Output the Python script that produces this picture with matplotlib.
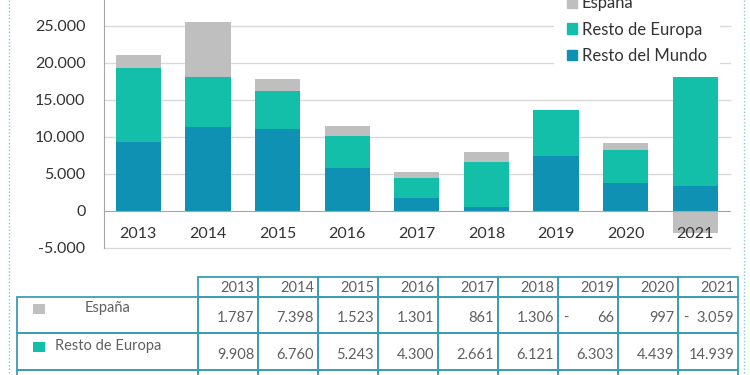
import numpy as np
import matplotlib
matplotlib.use('Agg')
import matplotlib.pyplot as plt
from matplotlib.patches import Patch, Rectangle
from matplotlib.lines import Line2D
from matplotlib.ticker import FuncFormatter

plt.rcParams['font.family'] = ['Lato', 'DejaVu Sans']

# ---------------- data ----------------
years = ['2013', '2014', '2015', '2016', '2017', '2018', '2019', '2020', '2021']
espana = [1787, 7398, 1523, 1301, 861, 1306, -66, 997, -3059]
resto_europa = [9908, 6760, 5243, 4300, 2661, 6121, 6303, 4439, 14939]
resto_mundo = [9350, 11300, 11000, 5800, 1700, 450, 7350, 3750, 3350]  # estimated from bars
y_ticks = [-5000, 0, 5000, 10000, 15000, 20000, 25000]

c_esp = '#BFBFBF'
c_eur = '#14BFA9'
c_mun = '#0E91B2'
border = '#3A9DB8'
txt = '#333333'
tbl_txt = '#606060'


def fmt_num(v, pos=None):
    s = f"{abs(int(v)):,}".replace(',', '.')
    return ('-' + s) if v < 0 else s


W, H = 750, 375
fig = plt.figure(figsize=(7.5, 3.75), dpi=100)


def fa(l, t, r, b):
    return [l / W, 1 - b / H, (r - l) / W, (b - t) / H]


# ---------------- chart ----------------
ax = fig.add_axes(fa(103.5, 0, 730, 247.7))
x = np.arange(len(years))
pos_base = np.zeros(len(years))
neg_base = np.zeros(len(years))
series = [('Resto del Mundo', resto_mundo, c_mun),
          ('Resto de Europa', resto_europa, c_eur),
          ('España', espana, c_esp)]
for name, vals, col in series:
    v = np.array(vals, dtype=float)
    bottoms = np.where(v >= 0, pos_base, neg_base)
    ax.bar(x, v, 0.65, bottom=bottoms, color=col, zorder=1, linewidth=0)
    pos_base += np.where(v > 0, v, 0)
    neg_base += np.where(v < 0, v, 0)

ax.set_xlim(-0.5, 8.5)
ax.set_ylim(-5000, 28500)
ax.set_yticks(y_ticks)
ax.yaxis.set_major_formatter(FuncFormatter(fmt_num))
for t in y_ticks:
    if t != 0:
        ax.axhline(t, color='#D9D9D9', lw=1, zorder=0.5, clip_on=False)
ax.set_xticks(x, years)
ax.spines['bottom'].set_position(('data', 0))
ax.spines['bottom'].set_color('#A6A6A6')
ax.spines['left'].set_color('#A6A6A6')
ax.spines['top'].set_visible(False)
ax.spines['right'].set_visible(False)
ax.tick_params(length=0)
ax.tick_params(axis='y', pad=13, labelsize=11.5, labelcolor=txt)
ax.tick_params(axis='x', pad=11.5, labelsize=11.5, labelcolor=txt)

handles = [Patch(color=c_esp, label='España'),
           Patch(color=c_eur, label='Resto de Europa'),
           Patch(color=c_mun, label='Resto del Mundo')]
leg = fig.legend(handles=handles, loc='center left',
                 bbox_to_anchor=(559 / W, 1 - 29.5 / H), fontsize=12,
                 frameon=True, facecolor='white', edgecolor='none', framealpha=1,
                 handlelength=0.6, handleheight=0.6, handletextpad=0.25,
                 labelspacing=0.62, borderpad=0.5, borderaxespad=0,
                 labelcolor=txt)
leg.get_frame().set_boxstyle('square')

# ---------------- table ----------------
at = fig.add_axes([0, 0, 1, 1], zorder=-1)
at.set_xlim(0, W)
at.set_ylim(H, 0)
at.axis('off')

lab_l = 17
col0 = 198
cw = 60.0
hdr_t, hdr_h = 277, 20
row_h = [36, 37, 37]
rows = [('España', espana, c_esp), ('Resto de Europa', resto_europa, c_eur),
        ('Resto del Mundo', resto_mundo, c_mun)]

for i, yr in enumerate(years):
    at.add_patch(Rectangle((col0 + i * cw, hdr_t), cw, hdr_h, fill=False,
                           edgecolor=border, lw=1.3))
    at.text(col0 + (i + 1) * cw - 4, hdr_t + hdr_h / 2 + 1, yr, ha='right', va='center',
            fontsize=10.5, color=tbl_txt)

top = hdr_t + hdr_h
for r, (name, vals, col) in enumerate(rows):
    h = row_h[r]
    visible = top + h <= H  # the last row is cut off by the picture's lower edge
    at.add_patch(Rectangle((lab_l, top), col0 - lab_l, h, fill=False,
                           edgecolor=border, lw=1.3))
    for i, v in enumerate(vals):
        at.add_patch(Rectangle((col0 + i * cw, top), cw, h, fill=False,
                               edgecolor=border, lw=1.3))
    if visible:
        at.add_patch(Rectangle((33, top + 7 if r == 0 else top + 9), 12, 10, color=col, lw=0))
        if r == 0:
            at.text(108, top + 11, name, ha='center', va='center', fontsize=10.5, color=tbl_txt)
        else:
            at.text(55, top + 13, name, ha='left', va='center', fontsize=10.5, color=tbl_txt)
        for i, v in enumerate(vals):
            yy = top + h - 15
            at.text(col0 + (i + 1) * cw - 4, yy, fmt_num(abs(v)), ha='right', va='center',
                    fontsize=10.5, color=tbl_txt)
            if v < 0:
                at.text(col0 + i * cw + 5, yy, '-', ha='left', va='center',
                        fontsize=10.5, color=tbl_txt)
    top += h

# dotted frame lines
at.add_line(Line2D([9, 9], [0, H], color='#8EC6D6', lw=1, ls=(0, (1, 1.5))))
at.add_line(Line2D([744, 744], [0, H], color='#8EC6D6', lw=1, ls=(0, (1, 1.5))))

fig.savefig('out.png', dpi=100)
